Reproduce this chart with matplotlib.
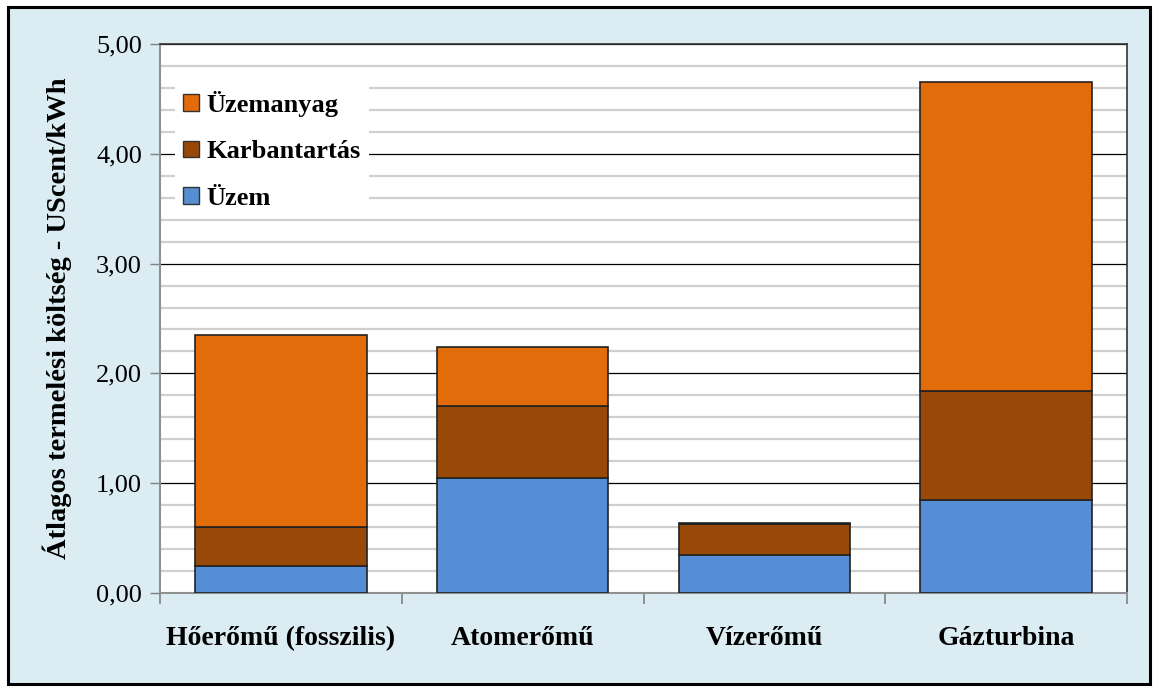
import matplotlib.pyplot as plt
from matplotlib.patches import Rectangle, Patch

categories = ["Hőerőmű (fosszilis)", "Atomerőmű", "Vízerőmű", "Gázturbina"]
uzem = [0.25, 1.05, 0.35, 0.85]
karbantartas = [0.35, 0.65, 0.28, 0.99]
uzemanyag = [1.75, 0.54, 0.01, 2.81]
y_ticks = [0, 1, 2, 3, 4, 5]
y_labels = ["0,00", "1,00", "2,00", "3,00", "4,00", "5,00"]

C_UZEM = "#558ED5"
C_KARB = "#984807"
C_FUEL = "#E36C0A"

plt.rcParams['font.family'] = ['Liberation Serif', 'DejaVu Serif']

W, H = 1157, 691
fig = plt.figure(figsize=(W / 100, H / 100), dpi=100, facecolor="white")

# light blue chart area with black frame
fig.patches.append(Rectangle((8 / W, 7 / H), (1150 - 8) / W, (684 - 7) / H,
                             transform=fig.transFigure, facecolor="#dbedf3",
                             edgecolor="black", linewidth=2.2, zorder=-10))

ax = fig.add_axes([160 / W, (H - 593) / H, 967 / W, 549 / H])
ax.set_facecolor("white")

x = range(len(categories))
bottom2 = [a + b for a, b in zip(uzem, karbantartas)]
ax.bar(x, uzem, width=0.71, color=C_UZEM, edgecolor="#222222", linewidth=1.2, zorder=3)
ax.bar(x, karbantartas, width=0.71, bottom=uzem, color=C_KARB, edgecolor="#222222", linewidth=1.2, zorder=3)
ax.bar(x, uzemanyag, width=0.71, bottom=bottom2, color=C_FUEL, edgecolor="#222222", linewidth=1.2, zorder=3)

ax.set_xlim(-0.5, 3.5)
ax.set_ylim(0, 5)

# gridlines
ax.set_yticks(y_ticks)
ax.set_yticklabels(y_labels, fontsize=19)
ax.set_yticks([i * 0.2 for i in range(26) if i % 5 != 0], minor=True)
ax.yaxis.grid(True, which="major", color="black", linewidth=0.9, zorder=1)
ax.yaxis.grid(True, which="minor", color="#cfcfcf", linewidth=1.6, zorder=1)
ax.set_axisbelow(True)
ax.tick_params(axis="y", which="major", length=7, color="#808080", width=1, pad=6)
ax.tick_params(axis="y", which="minor", length=0)

ax.set_xticks(list(x))
ax.set_xticklabels(categories, fontsize=20, fontweight="bold")
ax.set_xticks([-0.5, 0.5, 1.5, 2.5, 3.5], minor=True)
ax.tick_params(axis="x", which="major", length=0, pad=24)
ax.tick_params(axis="x", which="minor", length=8, color="#808080", width=1.2)

for s in ["left", "bottom"]:
    ax.spines[s].set_color("#909090")
    ax.spines[s].set_linewidth(1.5)
for s in ["top", "right"]:
    ax.spines[s].set_color("#333333")
    ax.spines[s].set_linewidth(1.2)

ax.set_ylabel("Átlagos termelési költség - UScent/kWh", fontsize=20.5, fontweight="bold")
ax.yaxis.set_label_coords(-88 / 967, 0.5)

handles = [Patch(facecolor=C_FUEL, edgecolor="#333333", label="Üzemanyag"),
           Patch(facecolor=C_KARB, edgecolor="#333333", label="Karbantartás"),
           Patch(facecolor=C_UZEM, edgecolor="#333333", label="Üzem")]
leg = ax.legend(handles=handles, loc="upper left", bbox_to_anchor=(2 / 967, 1 - 26 / 549),
                prop={"size": 19, "weight": "bold"}, frameon=True, fancybox=False,
                facecolor="white", edgecolor="none", framealpha=1,
                handlelength=0.6, handleheight=0.6, handletextpad=0.3,
                labelspacing=0.88, borderpad=0.3)
leg.set_zorder(5)

fig.savefig("out.png", dpi=100, facecolor="white")
